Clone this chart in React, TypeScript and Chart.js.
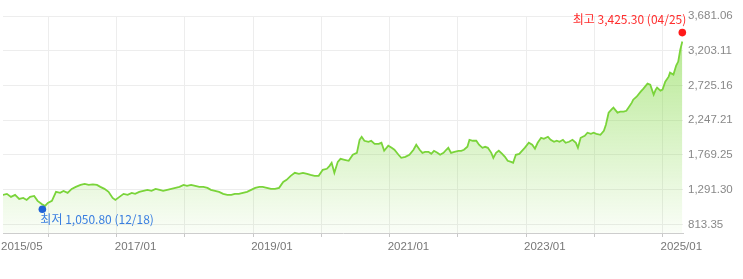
import React, { useEffect, useRef } from 'react';
import { Chart, registerables } from 'chart.js';

Chart.register(...registerables);

// Dates as decimal years (2015/05 .. 2025/04)
const dateYears = [
  2015.33, 2015.39, 2015.45, 2015.51, 2015.57, 2015.63, 2015.68, 2015.73, 2015.79, 2015.84,
  2015.90, 2015.95, 2015.99, 2016.05, 2016.11, 2016.17, 2016.22, 2016.28, 2016.34, 2016.40,
  2016.47, 2016.53, 2016.59, 2016.65, 2016.71, 2016.76, 2016.82, 2016.88, 2016.94, 2016.98,
  2017.04, 2017.10, 2017.16, 2017.22, 2017.27, 2017.33, 2017.39, 2017.45, 2017.51, 2017.57,
  2017.63, 2017.68, 2017.74, 2017.80, 2017.86, 2017.92, 2017.98, 2018.03, 2018.09, 2018.15,
  2018.21, 2018.27, 2018.33, 2018.38, 2018.44, 2018.50, 2018.56, 2018.62, 2018.68, 2018.73,
  2018.79, 2018.85, 2018.91, 2018.97, 2019.03, 2019.09, 2019.14, 2019.20, 2019.26, 2019.32,
  2019.38, 2019.44, 2019.49, 2019.55, 2019.61, 2019.67, 2019.73, 2019.79, 2019.84, 2019.90,
  2019.96, 2020.02, 2020.08, 2020.12, 2020.15, 2020.19, 2020.24, 2020.28, 2020.34, 2020.40,
  2020.46, 2020.52, 2020.56, 2020.59, 2020.63, 2020.69, 2020.73, 2020.78, 2020.84, 2020.88,
  2020.92, 2020.98, 2021.03, 2021.07, 2021.13, 2021.17, 2021.23, 2021.29, 2021.35, 2021.39,
  2021.44, 2021.48, 2021.52, 2021.57, 2021.61, 2021.65, 2021.70, 2021.74, 2021.79, 2021.83,
  2021.86, 2021.90, 2021.95, 2022.01, 2022.05, 2022.09, 2022.14, 2022.17, 2022.22, 2022.27,
  2022.31, 2022.36, 2022.40, 2022.44, 2022.49, 2022.52, 2022.56, 2022.60, 2022.65, 2022.69,
  2022.73, 2022.78, 2022.81, 2022.85, 2022.90, 2022.94, 2022.98, 2023.04, 2023.09, 2023.13,
  2023.17, 2023.22, 2023.26, 2023.32, 2023.36, 2023.41, 2023.45, 2023.49, 2023.54, 2023.58,
  2023.63, 2023.68, 2023.73, 2023.76, 2023.80, 2023.86, 2023.90, 2023.95, 2023.99, 2024.03,
  2024.09, 2024.14, 2024.17, 2024.21, 2024.25, 2024.28, 2024.34, 2024.38, 2024.43, 2024.47,
  2024.50, 2024.55, 2024.57, 2024.62, 2024.68, 2024.72, 2024.78, 2024.82, 2024.87, 2024.90,
  2024.92, 2024.97, 2025.00, 2025.04, 2025.09, 2025.11, 2025.16, 2025.20, 2025.23, 2025.26,
  2025.29,
];

const navValues = [
  1220, 1234, 1193, 1220, 1165, 1179, 1151, 1193, 1206, 1138,
  1096, 1068, 1110, 1138, 1262, 1248, 1275, 1248, 1303, 1331,
  1358, 1372, 1358, 1365, 1358, 1331, 1303, 1262, 1179, 1151,
  1193, 1234, 1220, 1248, 1234, 1262, 1275, 1289, 1275, 1303,
  1289, 1275, 1289, 1303, 1317, 1331, 1358, 1344, 1358, 1344,
  1331, 1331, 1317, 1289, 1275, 1262, 1234, 1220, 1220, 1234,
  1234, 1248, 1262, 1289, 1317, 1331, 1331, 1317, 1303, 1303,
  1317, 1399, 1427, 1482, 1524, 1510, 1524, 1510, 1496, 1482,
  1482, 1565, 1579, 1620, 1661, 1524, 1675, 1717, 1703, 1689,
  1772, 1799, 1978, 2020, 1965, 1951, 1965, 1923, 1923, 1937,
  1827, 1896, 1868, 1841, 1772, 1730, 1744, 1772, 1841, 1910,
  1841, 1799, 1813, 1813, 1785, 1827, 1799, 1772, 1799, 1841,
  1868, 1799, 1813, 1827, 1827, 1841, 1882, 1978, 1965, 1965,
  1910, 1868, 1882, 1868, 1799, 1730, 1799, 1827, 1785, 1744,
  1689, 1675, 1661, 1772, 1785, 1827, 1868, 1937, 1910, 1855,
  1937, 2006, 1992, 2020, 1978, 1951, 1965, 1951, 1978, 1937,
  1951, 1978, 1937, 1868, 2006, 2034, 2075, 2061, 2075, 2061,
  2047, 2103, 2185, 2351, 2392, 2420, 2351, 2365, 2365, 2378,
  2420, 2489, 2530, 2571, 2640, 2682, 2751, 2737, 2599, 2668,
  2695, 2654, 2668, 2778, 2847, 2902, 2875, 2999, 3054, 3219,
  3330,
];

const yTickValues = [813.35, 1291.3, 1769.25, 2247.21, 2725.16, 3203.11, 3681.06];
const xTickValues = [2015.333, 2016, 2017, 2018, 2019, 2020, 2021, 2022, 2023, 2024, 2025];
const xTickLabels = ['2015/05', '', '2017/01', '', '2019/01', '', '2021/01', '', '2023/01', '', '2025/01'];

const xMin = 2015.333;
const xMax = 2025.3;
const yMin = 696;
const yMax = 3681.06;

const highYear = 2025.29;
const highValue = 3425.3;
const highLabel = '최고 3,425.30 (04/25)';
const lowYear = 2015.91;
const lowValue = 1050.8;
const lowLabel = '최저 1,050.80 (12/18)';

const fmt = (v: number) =>
  v.toLocaleString('en-US', { minimumFractionDigits: 2, maximumFractionDigits: 2 });

const markerPlugin = {
  id: 'markers',
  afterDatasetsDraw(chart: any) {
    const { ctx, scales } = chart;
    const xs = scales.x;
    const ys = scales.y;
    ctx.save();
    ctx.font = "12px 'Noto Sans CJK KR', 'Liberation Sans', sans-serif";
    ctx.textBaseline = 'middle';

    const hx = xs.getPixelForValue(highYear);
    const hy = ys.getPixelForValue(highValue) - 2;
    ctx.fillStyle = '#ff1a1a';
    ctx.beginPath();
    ctx.arc(hx, hy, 3.8, 0, Math.PI * 2);
    ctx.fill();
    ctx.fillStyle = '#ff2d2d';
    ctx.textAlign = 'right';
    ctx.fillText(highLabel, hx + 4, hy - 13);

    const lx = xs.getPixelForValue(lowYear);
    const ly = ys.getPixelForValue(lowValue) + 2;
    ctx.fillStyle = '#1f63d6';
    ctx.beginPath();
    ctx.arc(lx, ly, 3.8, 0, Math.PI * 2);
    ctx.fill();
    ctx.fillStyle = '#3a7fe0';
    ctx.textAlign = 'left';
    ctx.fillText(lowLabel, lx - 2, ly + 10.5);
    ctx.restore();
  },
};

export default function App() {
  const ref = useRef<HTMLCanvasElement | null>(null);

  useEffect(() => {
    if (!ref.current) return;
    const data = dateYears.map((x, i) => ({ x, y: navValues[i] }));
    const chart = new Chart(ref.current, {
      type: 'line',
      data: {
        datasets: [
          {
            data,
            borderColor: 'rgb(122, 212, 58)',
            borderWidth: 1.8,
            pointRadius: 0,
            tension: 0,
            fill: 'start',
            backgroundColor: (c: any) => {
              const { chart: ch } = c;
              const area = ch.chartArea;
              if (!area) return 'rgba(125,215,60,0.2)';
              const g = ch.ctx.createLinearGradient(0, area.top, 0, area.bottom);
              g.addColorStop(0, 'rgba(125,215,60,0.62)');
              g.addColorStop(1, 'rgba(125,215,60,0.04)');
              return g;
            },
          },
        ],
      },
      options: {
        animation: false,
        responsive: true,
        maintainAspectRatio: false,
        layout: { padding: { top: 16, left: 0, right: 0, bottom: 0 } },
        plugins: { legend: { display: false }, tooltip: { enabled: false } },
        scales: {
          x: {
            type: 'linear',
            min: xMin,
            max: xMax,
            afterBuildTicks: (s: any) => {
              s.ticks = xTickValues.map((v) => ({ value: v }));
            },
            afterFit: (s: any) => {
              s.height = 46;
            },
            grid: {
              color: (c: any) => (c.index === 0 ? 'rgba(0,0,0,0)' : '#ededed'),
              tickColor: (c: any) => (c.index === 0 ? 'rgba(0,0,0,0)' : '#c8c8c8'),
              tickLength: 4,
              lineWidth: 1,
            },
            border: { color: '#cdcdcd' },
            ticks: {
              autoSkip: false,
              maxRotation: 0,
              align: 'start',
              labelOffset: -2,
              padding: 3,
              color: '#777',
              font: { family: "'Liberation Sans', Arial, sans-serif", size: 11.5 },
              callback: (_v: any, i: number) => xTickLabels[i],
            },
          },
          y: {
            position: 'right',
            min: yMin,
            max: yMax,
            afterBuildTicks: (s: any) => {
              s.ticks = yTickValues.map((v) => ({ value: v }));
            },
            afterFit: (s: any) => {
              s.width = 60;
            },
            grid: { color: '#ededed', drawTicks: false, lineWidth: 1 },
            border: { display: false },
            ticks: {
              padding: 5,
              color: '#888',
              font: { family: "'Liberation Sans', Arial, sans-serif", size: 11.5 },
              callback: (v: any) => fmt(Number(v)),
            },
          },
        },
      },
      plugins: [markerPlugin],
    });
    return () => chart.destroy();
  }, []);

  return (
    <div style={{ position: 'absolute', left: 0, top: 0, width: 743, height: 279, background: '#fff' }}>
      <canvas ref={ref} />
    </div>
  );
}
